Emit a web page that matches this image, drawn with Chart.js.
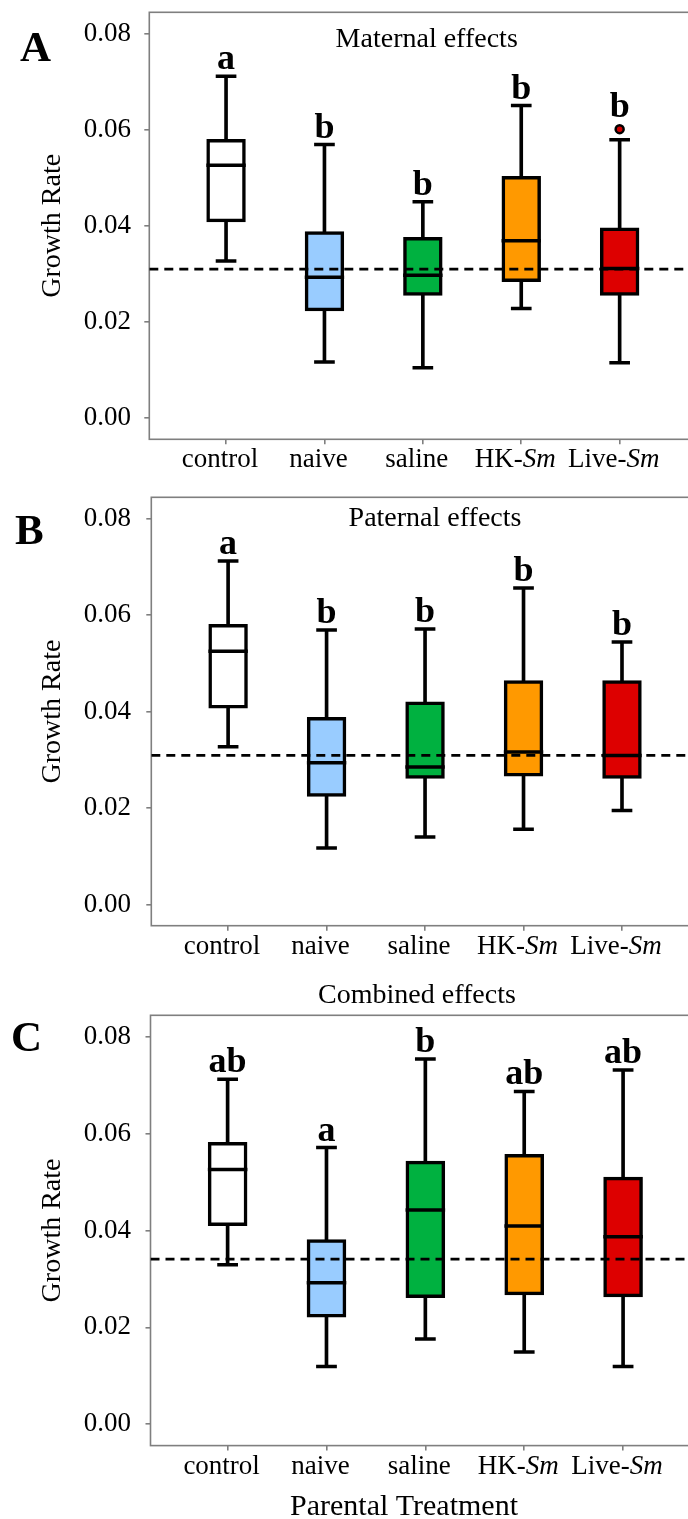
<!DOCTYPE html>
<html><head><meta charset="utf-8">
<script src="https://cdn.jsdelivr.net/npm/chart.js@4.4.1/dist/chart.umd.min.js"></script>
<style>
html,body{margin:0;padding:0;background:#fff;overflow:hidden;}
#wrap{position:relative;width:688px;height:1519px;overflow:hidden;background:#fff;}
canvas{position:absolute;left:0;}
</style></head><body>
<div id="wrap">
<canvas id="cA" width="704" height="480" style="top:0px"></canvas>
<canvas id="cB" width="704" height="480" style="top:480px"></canvas>
<canvas id="cC" width="704" height="559" style="top:960px"></canvas>
</div>
<script>
// ---------- data ----------
const categories = ['control', 'naive', 'saline', 'HK-Sm', 'Live-Sm'];
const italicSuffix = ['', '', '', 'Sm', 'Sm'];
const boxColors = ['#FFFFFF', '#99CCFF', '#00B140', '#FF9900', '#DD0000'];
const yTickValues = [0, 0.02, 0.04, 0.06, 0.08];

// A: Maternal effects
const lowA  = [0.0327, 0.0117, 0.0105, 0.0228, 0.0115];
const q1A   = [0.0411, 0.0226, 0.0258, 0.0287, 0.0258];
const medA  = [0.0526, 0.0293, 0.0297, 0.0369, 0.0311];
const q3A   = [0.0577, 0.0385, 0.0373, 0.0500, 0.0393];
const highA = [0.0711, 0.0569, 0.0450, 0.0650, 0.0579];
const outA  = [null, null, null, null, 0.0601];
const refA  = 0.0310;
const sigA  = ['a', 'b', 'b', 'b', 'b'];

// B: Paternal effects
const lowB  = [0.0327, 0.0117, 0.0140, 0.0156, 0.0195];
const q1B   = [0.0410, 0.0227, 0.0264, 0.0269, 0.0264];
const medB  = [0.0525, 0.0294, 0.0285, 0.0316, 0.0309];
const q3B   = [0.0578, 0.0385, 0.0417, 0.0461, 0.0461];
const highB = [0.0712, 0.0569, 0.0571, 0.0656, 0.0544];
const outB  = [null, null, null, null, null];
const refB  = 0.0309;
const sigB  = ['a', 'b', 'b', 'b', 'b'];

// C: Combined effects
const lowC  = [0.0329, 0.0119, 0.0176, 0.0149, 0.0119];
const q1C   = [0.0413, 0.0224, 0.0264, 0.0270, 0.0266];
const medC  = [0.0526, 0.0292, 0.0442, 0.0409, 0.0387];
const q3C   = [0.0579, 0.0378, 0.0540, 0.0554, 0.0507];
const highC = [0.0712, 0.0571, 0.0754, 0.0687, 0.0731];
const outC  = [null, null, null, null, null];
const refC  = 0.0341;
const sigC  = ['ab', 'a', 'b', 'ab', 'ab'];

// ---------- style / layout ----------
const FONT = "'Liberation Serif','Times New Roman',serif";
const FRAME_COLOR = '#7f7f7f';
const CANVAS_W = 704;
const LW = 3.5;
Chart.defaults.font.family = FONT;
Chart.defaults.color = '#000';

function buildChart(p) {
  const d = p.data;
  const idx = categories.map((_, i) => i);
  const halfSpan = f => c => {
    const s = c.chart.scales.x;
    const v = s ? Math.abs(s.getPixelForValue(f) - s.getPixelForValue(0)) : 0;
    return isFinite(v) ? v : 0;
  };
  const outPts = [];
  d.out.forEach((v, i) => { if (v !== null) outPts.push({x: i, y: v}); });

  const pointSet = (label, values, radiusFn, order) => ({
    type: 'line', label, data: idx.map(i => ({x: i, y: values[i]})),
    showLine: false, pointStyle: 'line', pointRadius: radiusFn,
    pointBorderWidth: LW, pointBorderColor: '#000', borderColor: '#000', order
  });

  const datasets = [
    {type: 'bar', label: 'whisker', data: idx.map(i => ({x: i, y: [d.low[i], d.high[i]]})),
     backgroundColor: '#000', borderWidth: 0, grouped: false,
     barPercentage: 0.037, categoryPercentage: 1, order: 6},
    {type: 'bar', label: 'box', data: idx.map(i => ({x: i, y: [d.q1[i], d.q3[i]]})),
     backgroundColor: boxColors, borderColor: '#000', borderWidth: LW, borderSkipped: false,
     inflateAmount: LW / 2, grouped: false, barPercentage: 0.365, categoryPercentage: 1, order: 5},
    pointSet('upper cap', d.high, halfSpan(0.105), 3),
    pointSet('lower cap', d.low, halfSpan(0.105), 3),
    pointSet('median', d.med, halfSpan(0.2), 2),
    {type: 'line', label: 'outlier', data: outPts, showLine: false, pointStyle: 'circle',
     pointRadius: 4, pointBorderWidth: 2.5, pointBorderColor: '#000',
     pointBackgroundColor: '#D00000', borderColor: '#000', order: 0}
  ];

  const F = p.frame;
  const decor = {
    id: 'decor' + p.id,
    beforeDatasetsDraw(chart) {
      const {ctx, chartArea: a} = chart;
      ctx.save();
      ctx.strokeStyle = FRAME_COLOR; ctx.lineWidth = 1.6;
      ctx.strokeRect(a.left, a.top, a.right - a.left, a.bottom - a.top);
      ctx.restore();
    },
    afterDatasetsDraw(chart) {
      const {ctx, chartArea: a, scales: {x, y}} = chart;
      ctx.save();
      ctx.beginPath(); ctx.rect(a.left, a.top, a.right - a.left, a.bottom - a.top); ctx.clip();
      const yr = y.getPixelForValue(d.ref);
      ctx.setLineDash([9, 6]); ctx.lineWidth = 2.7; ctx.strokeStyle = '#000';
      ctx.beginPath(); ctx.moveTo(a.left, yr); ctx.lineTo(a.right, yr); ctx.stroke();
      ctx.restore();

      ctx.save();
      ctx.fillStyle = '#000'; ctx.font = 'bold 36px ' + FONT;
      ctx.textAlign = 'center'; ctx.textBaseline = 'alphabetic';
      d.sig.forEach((s, i) => {
        const hasOut = d.out[i] !== null && d.out[i] > d.high[i];
        const top = hasOut ? d.out[i] : d.high[i];
        const py = y.getPixelForValue(top) - 7 - (hasOut ? 5 : 0);
        ctx.fillText(s, x.getPixelForValue(i), py);
      });
      ctx.restore();
    },
    afterDraw(chart) {
      const {ctx, chartArea: a, scales: {x}} = chart;
      ctx.save();
      ctx.fillStyle = '#000'; ctx.textBaseline = 'alphabetic'; ctx.textAlign = 'left';
      // x tick labels (with italic species part)
      categories.forEach((c, i) => {
        const it = italicSuffix[i];
        const plain = c.slice(0, c.length - it.length);
        ctx.font = '27px ' + FONT; const wp = ctx.measureText(plain).width;
        ctx.font = 'italic 27px ' + FONT; const wi = ctx.measureText(it).width;
        const sx = x.getPixelForValue(i) - (wp + wi) / 2 - 6;
        const by = a.bottom + 28;
        ctx.font = '27px ' + FONT; ctx.fillText(plain, sx, by);
        if (it) { ctx.font = 'italic 27px ' + FONT; ctx.fillText(it, sx + wp, by); }
      });
      // panel title
      ctx.textAlign = 'center';
      ctx.font = '28px ' + FONT;
      ctx.fillText(p.title.text, p.title.x, p.title.y);
      // panel letter
      ctx.textAlign = 'left';
      ctx.font = 'bold 43px ' + FONT;
      ctx.fillText(p.letter.text, p.letter.x, p.letter.y);
      // x axis title
      if (p.xTitle) {
        ctx.textAlign = 'center';
        ctx.font = '30px ' + FONT;
        ctx.fillText(p.xTitle.text, p.xTitle.x, p.xTitle.y);
      }
      ctx.restore();
    }
  };

  return new Chart(document.getElementById(p.canvasId), {
    type: 'bar',
    data: {datasets},
    plugins: [decor],
    options: {
      responsive: false, animation: false, events: [], devicePixelRatio: 1,
      layout: {autoPadding: false, padding: {top: F.top, left: 0, bottom: 0, right: CANVAS_W - F.right}},
      plugins: {legend: {display: false}, tooltip: {enabled: false}, title: {display: false}},
      scales: {
        x: {
          type: 'linear', min: -0.78, max: 4.78, offset: false,
          afterBuildTicks: s => { s.ticks = categories.map((_, i) => ({value: i})); },
          ticks: {display: false},
          grid: {offset: false, drawOnChartArea: false, drawTicks: true, tickLength: 5, color: FRAME_COLOR, lineWidth: 1.6},
          border: {display: false},
          afterFit: s => { s.height = p.height - F.bottom; s.paddingLeft = 0; s.paddingRight = 0; }
        },
        y: {
          type: 'linear', min: -0.0044, max: 0.0844, stacked: false,
          afterBuildTicks: s => { s.ticks = yTickValues.map(v => ({value: v})); },
          ticks: {callback: v => Number(v).toFixed(2), font: {size: 27}, color: '#000', padding: F.left - 5 - 131},
          grid: {drawOnChartArea: false, drawTicks: true, tickLength: 5, color: FRAME_COLOR, lineWidth: 1.6},
          border: {display: false},
          title: {display: true, text: 'Growth Rate', font: {size: 28}, color: '#000', padding: {top: 35.5, bottom: 0}},
          afterFit: s => { s.width = F.left; s.paddingTop = 0; s.paddingBottom = 0; }
        }
      }
    }
  });
}

buildChart({
  id: 'A', canvasId: 'cA', height: 480,
  frame: {top: 12.3, bottom: 439.3, left: 149.3, right: 696.4},
  title: {text: 'Maternal effects', x: 426.7, y: 46.7},
  letter: {text: 'A', x: 20, y: 61},
  data: {low: lowA, q1: q1A, med: medA, q3: q3A, high: highA, out: outA, ref: refA, sig: sigA}
});
buildChart({
  id: 'B', canvasId: 'cB', height: 480,
  frame: {top: 17.3, bottom: 445.7, left: 151.3, right: 698.8},
  title: {text: 'Paternal effects', x: 435, y: 46.3},
  letter: {text: 'B', x: 15, y: 64},
  data: {low: lowB, q1: q1B, med: medB, q3: q3B, high: highB, out: outB, ref: refB, sig: sigB}
});
buildChart({
  id: 'C', canvasId: 'cC', height: 559,
  frame: {top: 55.3, bottom: 485.6, left: 150.5, right: 700.2},
  title: {text: 'Combined effects', x: 417, y: 42.8},
  letter: {text: 'C', x: 11, y: 91},
  xTitle: {text: 'Parental Treatment', x: 404, y: 555},
  data: {low: lowC, q1: q1C, med: medC, q3: q3C, high: highC, out: outC, ref: refC, sig: sigC}
});
</script>
</body></html>
